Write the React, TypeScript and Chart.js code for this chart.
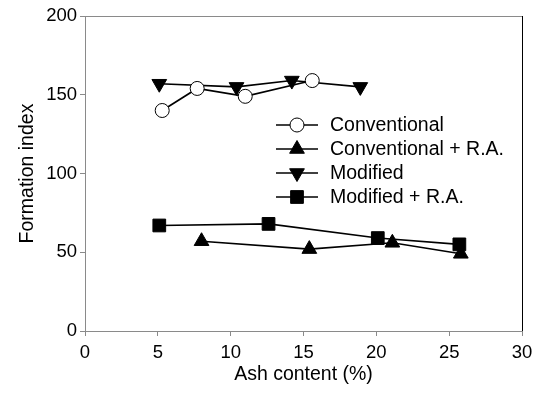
import React, { useEffect, useRef } from "react";
import { Chart, registerables } from "chart.js";
import { drawPoint } from "chart.js/helpers";

Chart.register(...registerables);

const seriesNames = ["Conventional", "Conventional + R.A.", "Modified", "Modified + R.A."];

const convX = [5.3, 7.7, 11.0, 15.6];
const convY = [140, 154, 149, 159];

const convRaX = [8.0, 15.4, 21.1, 25.8];
const convRaY = [57, 52, 56, 49];

const modX = [5.1, 10.4, 14.2, 18.9];
const modY = [157, 155, 159, 155];

const modRaX = [5.1, 12.6, 20.1, 25.7];
const modRaY = [67, 68, 59, 55];

const xTicks = [0, 5, 10, 15, 20, 25, 30];
const yTicks = [0, 50, 100, 150, 200];

const FONT = "'Liberation Sans', Arial, sans-serif";

const pts = (xs: number[], ys: number[]) => xs.map((x, i) => ({ x, y: ys[i] }));

const styles = [
  { pointStyle: "circle", bg: "#ffffff", radius: 7, rotation: 0 },
  { pointStyle: "triangle", bg: "#000000", radius: 8.5, rotation: 0 },
  { pointStyle: "triangle", bg: "#000000", radius: 8.5, rotation: 180 },
  { pointStyle: "rect", bg: "#000000", radius: 9, rotation: 0 },
];

const frameAndLegend = {
  id: "frameAndLegend",
  afterDatasetsDraw(chart: any) {
    const { ctx, chartArea } = chart;
    ctx.save();
    ctx.lineWidth = 1;
    ctx.strokeStyle = "#8a8a8a";
    ctx.beginPath();
    ctx.moveTo(chartArea.left, chartArea.top + 0.5);
    ctx.lineTo(chartArea.right, chartArea.top + 0.5);
    ctx.stroke();
    ctx.strokeStyle = "#000000";
    ctx.beginPath();
    ctx.moveTo(chartArea.right + 0.5, chartArea.top);
    ctx.lineTo(chartArea.right + 0.5, chartArea.bottom);
    ctx.stroke();

    const x0 = 276;
    const x1 = 318;
    const xm = 297;
    const tx = 330;
    const y0 = 125;
    const dy = 24;
    ctx.font = `19.5px ${FONT}`;
    ctx.textBaseline = "middle";
    ctx.textAlign = "left";
    seriesNames.forEach((name, i) => {
      const y = y0 + i * dy;
      ctx.strokeStyle = "#000";
      ctx.lineWidth = 1.6;
      ctx.beginPath();
      ctx.moveTo(x0, y);
      ctx.lineTo(x1, y);
      ctx.stroke();
      const s = styles[i];
      ctx.fillStyle = s.bg;
      ctx.strokeStyle = "#000";
      ctx.lineWidth = 1;
      drawPoint(ctx, { pointStyle: s.pointStyle as any, rotation: s.rotation, radius: s.radius, borderWidth: 1 }, xm, y);
      ctx.fillStyle = "#000";
      ctx.fillText(name, tx, y + 1);
    });
    ctx.restore();
  },
};

export default function App() {
  const ref = useRef<HTMLCanvasElement>(null);
  useEffect(() => {
    if (!ref.current) return;
    const data = [pts(convX, convY), pts(convRaX, convRaY), pts(modX, modY), pts(modRaX, modRaY)];
    const chart = new Chart(ref.current, {
      type: "line",
      data: {
        datasets: data.map((d, i) => ({
          label: seriesNames[i],
          data: d,
          borderColor: "#000",
          borderWidth: 1.6,
          pointStyle: styles[i].pointStyle as any,
          pointRotation: styles[i].rotation,
          pointRadius: styles[i].radius,
          pointBackgroundColor: styles[i].bg,
          pointBorderColor: "#000",
          pointBorderWidth: 1,
          tension: 0,
          fill: false,
        })),
      },
      options: {
        animation: false,
        responsive: false,
        maintainAspectRatio: false,
        layout: { padding: { left: 0, top: 16, right: 18, bottom: 0 } },
        plugins: { legend: { display: false }, tooltip: { enabled: false } },
        scales: {
          x: {
            type: "linear",
            min: 0,
            max: 30,
            afterBuildTicks: (s: any) => {
              s.ticks = xTicks.map((v) => ({ value: v }));
            },
            afterFit: (s: any) => {
              s.height = 64;
            },
            ticks: { color: "#000", font: { family: FONT, size: 18.5 }, padding: 6, maxRotation: 0 },
            grid: { drawOnChartArea: false, tickLength: 5, color: "#8a8a8a" },
            border: { color: "#8a8a8a", width: 1 },
            title: {
              display: true,
              text: "Ash content (%)",
              color: "#000",
              font: { family: FONT, size: 19.5 },
              padding: { top: 0, bottom: 9 },
            },
          },
          y: {
            type: "linear",
            min: 0,
            max: 200,
            afterBuildTicks: (s: any) => {
              s.ticks = yTicks.map((v) => ({ value: v }));
            },
            afterFit: (s: any) => {
              s.width = 85;
            },
            ticks: { color: "#000", font: { family: FONT, size: 18.5 }, padding: 3 },
            grid: { drawOnChartArea: false, tickLength: 5, color: "#8a8a8a" },
            border: { color: "#8a8a8a", width: 1 },
            title: {
              display: true,
              text: "Formation index",
              color: "#000",
              font: { family: FONT, size: 19.5 },
              padding: { top: 16, bottom: 0 },
            },
          },
        },
      },
      plugins: [frameAndLegend],
    });
    return () => chart.destroy();
  }, []);
  return (
    <div style={{ position: "fixed", left: 0, top: 0, width: 540, height: 395, background: "#fff" }}>
      <canvas ref={ref} width={540} height={395} style={{ width: 540, height: 395, display: "block" }} />
    </div>
  );
}
